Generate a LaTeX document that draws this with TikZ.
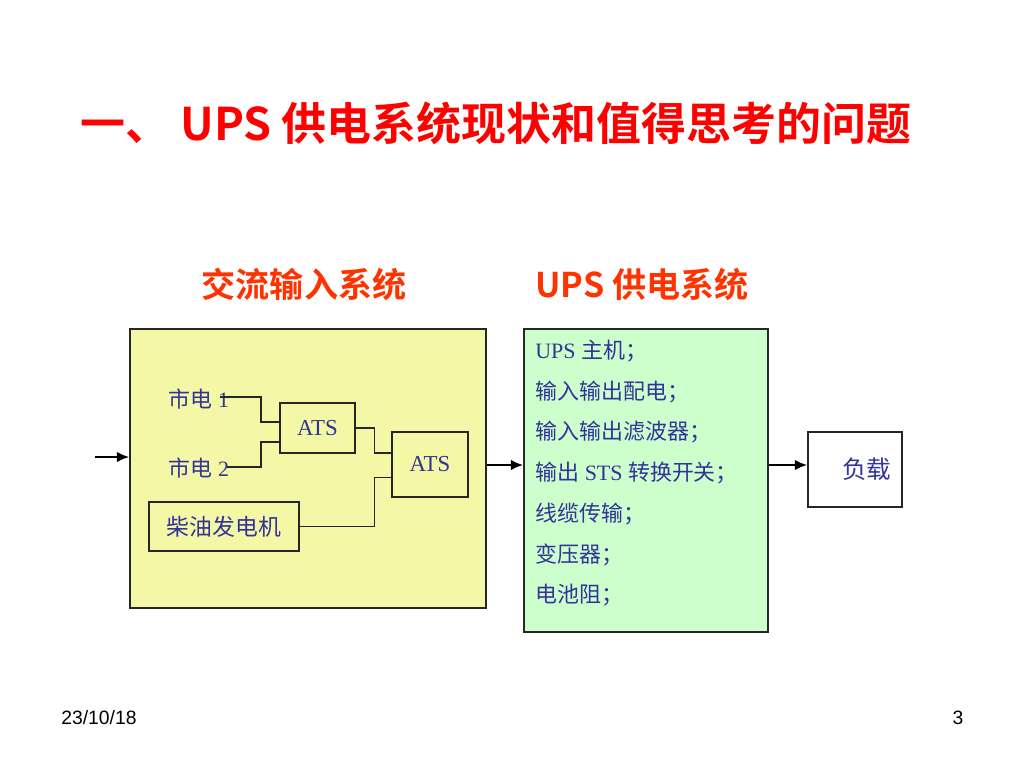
\documentclass[tikz,border=0pt]{standalone}
\usepackage{fontspec}
\setmainfont{Liberation Serif}
\setsansfont{Liberation Sans}
\newfontfamily\cjk[BoldFont={Noto Sans CJK SC Bold}]{Noto Sans CJK SC}
\definecolor{upsred}{RGB}{255,0,0}
\definecolor{upsorange}{RGB}{255,51,0}
\definecolor{upsblue}{RGB}{51,51,153}
\definecolor{upsyellow}{RGB}{243,247,166}
\definecolor{upsgreen}{RGB}{204,255,204}
\usetikzlibrary{arrows.meta,positioning}

\begin{document}
\begin{tikzpicture}[x=0.02cm, y=-0.02cm,
  every node/.style={font=\fontsize{12.5}{15}\selectfont, text=upsblue},
  box/.style={draw=black!85, line width=0.9pt, inner sep=0pt},
  wire/.style={draw=black!85, line width=0.8pt},
  arr/.style={-{Latex[length=7pt,width=6pt]}, line width=1.2pt, black}]
\useasboundingbox (0,0) rectangle (1024,768);
% Titles
\node[font=\cjk\bfseries\fontsize{25.6}{30}\selectfont, text=upsred] (title) at (496,123) {一、 UPS 供电系统现状和值得思考的问题};
\node[font=\cjk\bfseries\fontsize{19.4}{22}\selectfont, text=upsorange] (acttl) at (304,284) {交流输入系统};
\node[font=\cjk\bfseries\fontsize{19.4}{22}\selectfont, text=upsorange] (upsttl) at (642,284) {UPS 供电系统};
% Main blocks
\node[box, fill=upsyellow, minimum width=7.12cm, minimum height=5.58cm] (ac) at (308,468.5) {};
\node[box, fill=upsgreen, minimum width=4.88cm, minimum height=6.06cm] (ups) at (646,480.5) {};
\node[box, fill=white, minimum width=1.88cm, minimum height=1.5cm, text width=1.45cm, align=right, font=\cjk\fontsize{14}{16}\selectfont] (load) at (855,469.5) {负载};
% Inside the AC input block
\node (m1) at (199,399) {{\cjk 市电} 1};
\node (m2) at (199,468) {{\cjk 市电} 2};
\coordinate (m1end) at (220,397);
\coordinate (m2end) at (227,467);
\node[box, minimum width=1.5cm, minimum height=1cm, font=\fontsize{13}{15}\selectfont] (ats1) at (317.5,428) {ATS};
\node[box, minimum width=1.52cm, minimum height=1.3cm, font=\fontsize{13}{15}\selectfont] (ats2) at (430,464.5) {ATS};
\node[box, minimum width=3cm, minimum height=0.98cm, font=\cjk\fontsize{13}{15}\selectfont] (gen) at (224,526.5) {柴油发电机};
\draw[wire] (m1end) -- ++(41,0) |- ([yshift=0.12cm]ats1.west);
\draw[wire] (m2end) -- ++(34,0) |- ([yshift=-0.28cm]ats1.west);
\draw[wire] (ats1.east) -- ++(19,0) |- ([yshift=0.23cm]ats2.west);
\draw[wire] (gen.east) -- ++(75,0) |- ([yshift=-0.26cm]ats2.west);
% UPS block contents
\foreach \i/\t in {0/{UPS {\cjk 主机；}}, 1/{\cjk 输入输出配电；}, 2/{\cjk 输入输出滤波器；},
  3/{{\cjk 输出} STS {\cjk 转换开关；}}, 4/{\cjk 线缆传输；}, 5/{\cjk 变压器；}, 6/{\cjk 电池阻；}} {
  \node[anchor=west, inner sep=0pt] (u\i) at (535,351+40.7*\i) {\t};
}
% Power flow
\coordinate (acin) at (95,457);
\coordinate (flow) at (0,465);
\draw[arr] (acin) -- (acin -| ac.west);
\draw[arr] (ac.east |- flow) -- (ups.west |- flow);
\draw[arr] (ups.east |- flow) -- (load.west |- flow);
% Footer
\node[font=\sffamily\fontsize{11}{13}\selectfont, text=black] (date) at (99,718) {23/10/18};
\node[font=\sffamily\fontsize{11}{13}\selectfont, text=black] (page) at (958,718) {3};
\end{tikzpicture}
\end{document}
